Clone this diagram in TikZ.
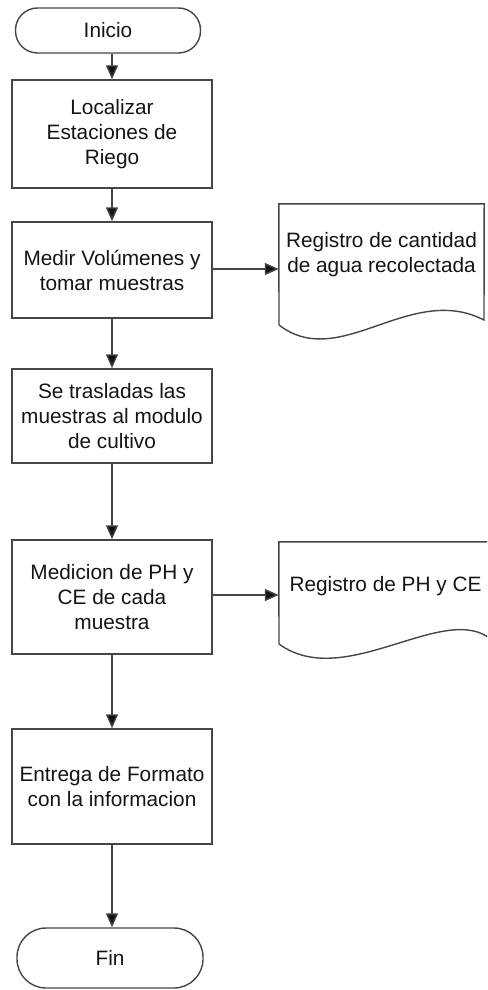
\documentclass[tikz,border=0pt]{standalone}
\usepackage{fontspec}
\setmainfont{Liberation Sans}
\usetikzlibrary{arrows.meta}
\definecolor{linec}{RGB}{70,70,70}
\definecolor{textc}{RGB}{20,20,20}
\begin{document}
\begin{tikzpicture}[x=1pt,y=-1pt,
  every node/.style={font=\fontsize{20.8}{25}\selectfont, text=textc, align=center, inner sep=0pt},
  procbox/.style={draw=linec, line width=1.4pt, minimum width=200pt},
  termbox/.style={draw=linec, line width=1.4pt, rounded corners=#1},
  docbox/.style={minimum width=205pt},
  outline/.style={draw=linec, line width=1.4pt},
  flow/.style={draw=linec, line width=1.4pt, -{Triangle[width=12pt,length=14pt,fill=textc]}}
]
\useasboundingbox (0,0) rectangle (487,990);
\clip (0,0) rectangle (487,990);
% terminators
\node[termbox=22pt, minimum width=185pt, minimum height=45pt] (inicio) at (108,30.5) {Inicio};
\node[termbox=29pt, minimum width=186pt, minimum height=60pt] (fin) at (110,958) {Fin};
% process boxes
\node[procbox, minimum height=108pt] (b1) at (112,134) {Localizar\\Estaciones de\\Riego};
\node[procbox, minimum height=96pt] (b2) at (112,270) {Medir Volúmenes y\\tomar muestras};
\node[procbox, minimum height=94pt] (b3) at (112,416) {Se trasladas las\\muestras al modulo\\de cultivo};
\node[procbox, minimum height=114pt] (b4) at (112,597) {Medicion de PH y\\CE de cada\\muestra};
\node[procbox, minimum height=115pt] (b5) at (112,786.5) {Entrega de Formato\\con la informacion};
% documents
\node[docbox, minimum height=102pt] (d1) at (381.5,255) {Registro de cantidad\\de agua recolectada};
\draw[outline] (279,325) -- (d1.north west) -- (d1.north east) -- (484,320)
  .. controls (410,282) and (340,372) .. (279,325);
\node[docbox, minimum width=213pt, minimum height=88pt] (d2) at (385.5,586) {Registro de PH y CE};
\draw[outline] (279,644) -- (d2.north west) -- (d2.north east) -- (492,640)
  .. controls (445,600) and (345,692) .. (279,644);
% connectors
\draw[flow] (inicio.south -| b1.north) -- (b1.north);
\draw[flow] (b1.south) -- (b2.north);
\draw[flow] (b2.south) -- (b3.north);
\draw[flow] (b3.south) -- (b4.north);
\draw[flow] (b4.south) -- (b5.north);
\draw[flow] (b5.south) -- (b5.south |- fin.north);
\draw[flow] ([yshift=1pt]b2.east) -- ([yshift=1pt]b2.east -| d1.west);
\draw[flow] ([yshift=2pt]b4.east) -- ([yshift=2pt]b4.east -| d2.west);
\end{tikzpicture}
\end{document}
